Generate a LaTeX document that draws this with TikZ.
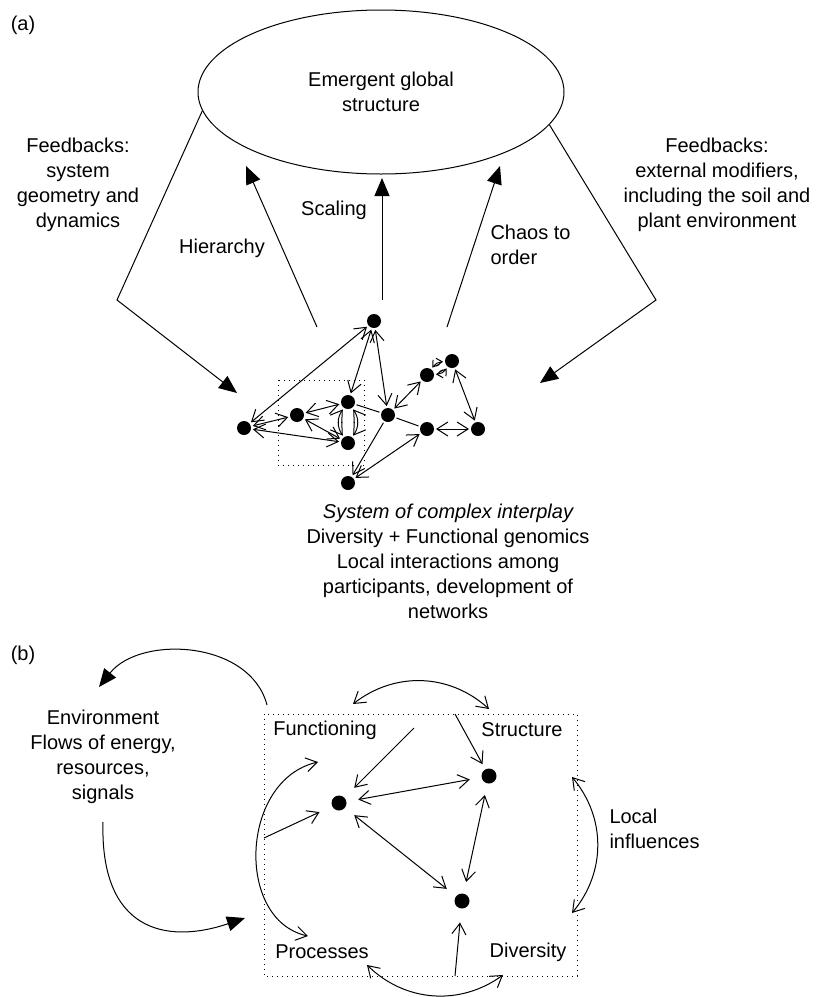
\documentclass[tikz,border=0pt]{standalone}
\usepackage{fontspec}
\setmainfont{Liberation Sans}
\usetikzlibrary{arrows.meta,shapes.geometric}

\begin{document}
\begin{tikzpicture}[x=0.5pt, y=-0.5pt, line width=0.5pt,
  txt/.style={font=\fontsize{10}{12.5}\selectfont, align=center, inner sep=0pt},
  dot/.style={circle, fill, inner sep=0pt, minimum size=7pt, outer sep=1pt},
  dbl/.style={{Straight Barb[length=5.5pt,width=7pt]}-{Straight Barb[length=5.5pt,width=7pt]}},
  sdbl/.style={{Straight Barb[length=3pt,width=4pt]}-{Straight Barb[length=3pt,width=4pt]}},
  sgl/.style={-{Straight Barb[length=5.5pt,width=7pt]}},
  big/.style={-{Triangle[length=9pt,width=7.5pt]}},
  gap/.style={shorten <=5pt, shorten >=5pt}
]
\useasboundingbox (0,0) rectangle (815,997);

% (a)
\node[txt] (la) at (23,25) {(a)};
\node[draw, ellipse, inner sep=0pt, minimum width=183pt, minimum height=82pt] (egs) at (381,92) {};
\node[txt] (egstxt) at (381,92) {Emergent global\\structure};

\node[txt] (fbl) at (78,185) {Feedbacks:\\system\\geometry and\\dynamics};
\node[txt] (fbr) at (717,185) {Feedbacks:\\external modifiers,\\including the soil and\\plant environment};
\node[txt] (hier) at (222,248) {Hierarchy};
\node[txt] (scal) at (334,210) {Scaling};
\node[txt, anchor=west, align=left] (chaos) at (490,245) {Chaos to\\order};

\coordinate (kl) at (117,300);
\coordinate (kla) at (237,393);
\coordinate (kr) at (656,300);
\coordinate (kra) at (540,383);
\draw[big] (egs.186) -- (kl) -- (kla);
\draw[big] (egs.-11) -- (kr) -- (kra);

\coordinate (hb) at (317,327); \coordinate (ht) at (246,166);
\coordinate (sb) at (382,300); \coordinate (st) at (382,178);
\coordinate (cb) at (447,327); \coordinate (ct) at (500,166);
\draw[big] (hb) -- (ht);
\draw[big] (sb) -- (st);
\draw[big] (cb) -- (ct);

% network
\node[dot] (p1) at (374,321) {};
\node[dot] (p2) at (244,428) {};
\node[dot] (p3) at (297,415) {};
\node[dot] (p4) at (348,402) {};
\node[dot] (p5) at (348,443) {};
\node[dot] (p6) at (388,415) {};
\node[dot] (p7) at (427,375) {};
\node[dot] (p8) at (452,361) {};
\node[dot] (p9) at (427,429) {};
\node[dot] (p10) at (478,429) {};
\node[dot] (p11) at (348,483) {};
\draw[dotted] (278,380) rectangle (364,465);

\draw[dbl] (p2) -- (p1);
\draw[dbl] (p2) -- (p3);
\draw[dbl] (p2) -- (p5);
\draw[dbl] (p3) -- (p4);
\draw[dbl] (p3) -- (p5);
\draw[dbl] (p4) -- (p1);
\draw[dbl] (p1) -- (p6);
\draw[dbl] (p4) to[bend left=35] (p5);
\draw[dbl] (p4) to[bend right=35] (p5);
\draw (p4) -- (p6) -- (p9);
\draw[dbl] (p6) -- (p7);
\draw[sdbl] (p7) to[bend left=25] (p8);
\draw[sdbl] (p7) to[bend right=25] (p8);
\draw[dbl] (p8) -- (p10);
\draw[dbl] (p9) -- (p10);
\draw[sgl] (p6) -- (p11);
\draw[dbl] (p11) -- (p9);

\node[txt] (cap) at (448,561) {\itshape System of complex interplay\\Diversity + Functional genomics\\Local interactions among\\participants, development of\\networks};

% (b)
\node[txt] (lb) at (23,655) {(b)};
\draw[dotted] (264,714) rectangle (577,976);
\node[txt] (fun) at (325,730) {Functioning};
\node[txt] (str) at (522,730) {Structure};
\node[txt] (pro) at (322,952) {Processes};
\node[txt] (div) at (528,952) {Diversity};
\node[txt] (env) at (103,757) {Environment\\Flows of energy,\\resources,\\signals};
\node[txt, anchor=west, align=left] (loc) at (609,829) {Local\\influences};

\node[dot, minimum size=7.5pt] (fn) at (339,803) {};
\node[dot, minimum size=7.5pt] (sn) at (489,776) {};
\node[dot, minimum size=7.5pt] (dn) at (462,901) {};

\draw[dbl, gap] (fn) -- (sn);
\draw[dbl, gap] (fn) -- (dn);
\draw[dbl, gap] (sn) -- (dn);

\coordinate (fa) at (414,728);
\coordinate (sa) at (455,714);
\coordinate (pa) at (264,838);
\coordinate (da) at (455,976);
\draw[sgl, shorten >=6pt] (fa) -- (fn);
\draw[sgl, shorten >=2pt] (sa) -- (sn);
\draw[sgl, shorten >=6pt] (pa) -- (fn);
\draw[sgl, shorten >=6pt] (da) -- (dn);

\coordinate (tl) at (353,704); \coordinate (tr) at (489,709);
\coordinate (rt) at (572,777); \coordinate (rb) at (572,913);
\coordinate (bl) at (367,965); \coordinate (br) at (503,975);
\coordinate (lt) at (318,762); \coordinate (lbt) at (308,936);
\draw[dbl] (tl) to[bend left=40] (tr);
\draw[dbl] (rt) to[bend left=40] (rb);
\draw[dbl] (bl) to[bend right=40] (br);
\draw[dbl] (lt) .. controls (240,780) and (235,920) .. (lbt);

\coordinate (e1) at (267,705); \coordinate (e2) at (99,687);
\coordinate (e3) at (103,822); \coordinate (e4) at (245,918);
\draw[big] (e1) .. controls (250,640) and (140,635) .. (e2);
\draw[big] (e3) .. controls (100,930) and (165,945) .. (e4);
\end{tikzpicture}
\end{document}
